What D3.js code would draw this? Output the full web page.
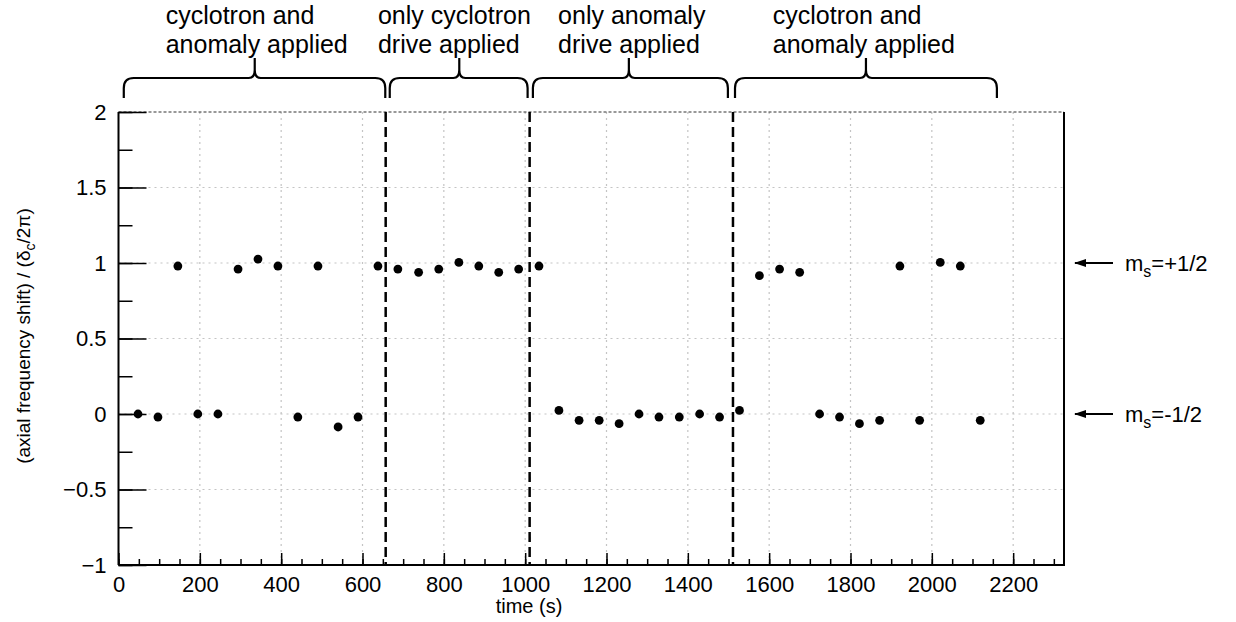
<!DOCTYPE html>
<html>
<head>
<meta charset="utf-8">
<script src="https://cdn.jsdelivr.net/npm/d3@7"></script>
<style>
  html, body { margin: 0; padding: 0; background: #fff; }
  svg { display: block; font-family: "Liberation Sans", Arial, Helvetica, sans-serif; }
</style>
</head>
<body>
<svg id="chart" width="1236" height="622"></svg>
<script>
// ---- data ----
const times = [48, 97, 146, 195, 244.5, 294, 343, 392, 441, 490.5, 540, 589, 638, 687,
  738, 787.5, 837, 886, 935, 984, 1034, 1083, 1132.6, 1182, 1231, 1280, 1329, 1379,
  1429, 1478, 1527, 1576, 1625.6, 1675, 1724, 1773, 1822, 1871.6, 1921.5, 1970,
  2020.7, 2070, 2119];
const shifts = [0.0, -0.02, 0.98, 0.0, 0.0, 0.96, 1.026, 0.98, -0.02, 0.98, -0.086, -0.02, 0.98, 0.96,
  0.938, 0.96, 1.004, 0.98, 0.938, 0.96, 0.98, 0.024, -0.042, -0.042, -0.064, 0.0, -0.02, -0.02,
  0.0, -0.02, 0.024, 0.916, 0.96, 0.938, 0.0, -0.02, -0.064, -0.042, 0.98, -0.042,
  1.004, 0.98, -0.042];
const xTicks = [0, 200, 400, 600, 800, 1000, 1200, 1400, 1600, 1800, 2000, 2200];
const yTicks = [-1, -0.5, 0, 0.5, 1, 1.5, 2];
const yTickLabels = ["\u22121", "\u22120.5", "0", "0.5", "1", "1.5", "2"];
const dividerTimes = [657, 1011, 1511];
const braceStarts = [13, 667, 1019, 1516];
const braceEnds = [656, 1006, 1498.5, 2160];
const braceTips = [335, 838, 1255, 1838];
const phaseLine1 = ["cyclotron and", "only cyclotron", "only anomaly", "cyclotron and"];
const phaseLine2 = ["anomaly applied", "drive applied", "drive applied", "anomaly applied"];
const phaseTextStart = [116, 638, 1081, 1609];
const levelValues = [1, 0];
const levelLabels = ["=+1/2", "=-1/2"];

// ---- layout ----
const svg = d3.select("#chart");
const L = 118.5, R = 1064, T = 112, B = 565;
const x = d3.scaleLinear().domain([0, 2325]).range([L, R]);
const y = d3.scaleLinear().domain([-1, 2]).range([B, T]);

// grid
const grid = svg.append("g");
grid.selectAll("line.gx").data(xTicks.filter(d => d > 0)).enter().append("line")
  .attr("x1", d => x(d)).attr("x2", d => x(d)).attr("y1", T).attr("y2", B)
  .attr("stroke", "#c4c4c4").attr("stroke-width", 1.2).attr("stroke-dasharray", "2,4");
grid.selectAll("line.gy").data(yTicks.filter(d => d > -1 && d < 2)).enter().append("line")
  .attr("x1", L).attr("x2", R).attr("y1", d => y(d)).attr("y2", d => y(d))
  .attr("stroke", "#c4c4c4").attr("stroke-width", 1.2).attr("stroke-dasharray", "2,4");

// top dashed border
svg.append("line").attr("x1", L).attr("x2", R).attr("y1", T).attr("y2", T)
  .attr("stroke", "#333").attr("stroke-width", 1.2).attr("stroke-dasharray", "3,2");
// right border
svg.append("line").attr("x1", R).attr("x2", R).attr("y1", T).attr("y2", B + 1)
  .attr("stroke", "#000").attr("stroke-width", 2);

// x axis (ticks inside)
const xMinor = d3.range(0, 2326, 50);
const xAxis = d3.axisBottom(x).tickValues(xMinor).tickSize(-6).tickFormat("");
svg.append("g").attr("transform", `translate(0,${B})`).call(xAxis)
  .call(g => g.select(".domain").attr("stroke-width", 2).attr("d", `M${L},0H${R}`))
  .call(g => g.selectAll(".tick line").attr("stroke-width", 1.5));
const xMajor = d3.axisBottom(x).tickValues(xTicks).tickSize(-12).tickPadding(11).tickFormat(d3.format("d"));
svg.append("g").attr("transform", `translate(0,${B})`).call(xMajor)
  .call(g => g.select(".domain").remove())
  .call(g => g.selectAll(".tick line").attr("stroke-width", 1.5))
  .call(g => g.selectAll(".tick text").attr("font-size", 22).attr("fill", "#000")
    .attr("font-family", "Liberation Sans, Arial, sans-serif"));

// y axis (ticks inside)
const yMinor = d3.range(-1, 2.01, 0.25);
const yAxis = d3.axisLeft(y).tickValues(yMinor).tickSize(-14).tickFormat("");
svg.append("g").attr("transform", `translate(${L},0)`).call(yAxis)
  .call(g => g.select(".domain").attr("stroke-width", 2).attr("d", `M0,${T}V${B}`))
  .call(g => g.selectAll(".tick line").attr("stroke-width", 1.5));
const yMajor = d3.axisLeft(y).tickValues(yTicks).tickSize(-28).tickPadding(12)
  .tickFormat((d, i) => yTickLabels[i]);
svg.append("g").attr("transform", `translate(${L},0)`).call(yMajor)
  .call(g => g.select(".domain").remove())
  .call(g => g.selectAll(".tick line").attr("stroke-width", 1.5))
  .call(g => g.selectAll(".tick text").attr("font-size", 22).attr("fill", "#000")
    .attr("font-family", "Liberation Sans, Arial, sans-serif"));

// dividers
svg.selectAll("line.div").data(dividerTimes).enter().append("line")
  .attr("x1", d => x(d)).attr("x2", d => x(d)).attr("y1", T).attr("y2", B)
  .attr("stroke", "#000").attr("stroke-width", 2.5).attr("stroke-dasharray", "10,5");

// points
svg.append("g").selectAll("circle").data(times).enter().append("circle")
  .attr("cx", d => x(d)).attr("cy", (d, i) => y(shifts[i])).attr("r", 4.4).attr("fill", "#000");

// braces
const yEnd = 98, yH = 78, yTip = 58;
braceStarts.forEach((s, i) => {
  const x0 = x(s), x1 = x(braceEnds[i]), xm = x(braceTips[i]);
  const p = `M${x0},${yEnd} L${x0},${yH + 10} Q${x0},${yH} ${x0 + 10},${yH} L${xm - 6},${yH} Q${xm},${yH} ${xm},${yH - 8} L${xm},${yTip}` +
            ` M${xm},${yH - 8} Q${xm},${yH} ${xm + 6},${yH} L${x1 - 10},${yH} Q${x1},${yH} ${x1},${yH + 10} L${x1},${yEnd}`;
  svg.append("path").attr("d", p).attr("fill", "none").attr("stroke", "#000").attr("stroke-width", 2.2);
  svg.append("text").attr("x", x(phaseTextStart[i])).attr("y", 24).attr("font-size", 25).text(phaseLine1[i]);
  svg.append("text").attr("x", x(phaseTextStart[i])).attr("y", 53).attr("font-size", 25).text(phaseLine2[i]);
});

// level markers
const defs = svg.append("defs");
defs.append("marker").attr("id", "ah").attr("viewBox", "0 0 12 8").attr("refX", 11).attr("refY", 4)
  .attr("markerWidth", 12).attr("markerHeight", 8).attr("markerUnits", "userSpaceOnUse").attr("orient", "auto")
  .append("path").attr("d", "M0,0 L12,4 L0,8 Z").attr("fill", "#000");
levelValues.forEach((v, i) => {
  svg.append("line").attr("x1", 1113).attr("x2", 1075).attr("y1", y(v)).attr("y2", y(v))
    .attr("stroke", "#000").attr("stroke-width", 2).attr("marker-end", "url(#ah)");
  const t = svg.append("text").attr("x", 1125).attr("y", y(v) + 8).attr("font-size", 22);
  t.append("tspan").text("m");
  t.append("tspan").attr("font-size", 16).attr("dy", 6).text("s");
  t.append("tspan").attr("dy", -6).text(levelLabels[i]);
});

// axis titles
svg.append("text").attr("x", 529).attr("y", 613).attr("text-anchor", "middle").attr("font-size", 20).text("time (s)");
const yt = svg.append("text").attr("transform", "translate(30,336) rotate(-90)")
  .attr("text-anchor", "middle").attr("font-size", 19);
yt.append("tspan").text("(axial frequency shift) / (\u03b4");
yt.append("tspan").attr("font-size", 14).attr("dy", 5).text("c");
yt.append("tspan").attr("dy", -5).text("/2\u03c0)");
</script>
</body>
</html>
